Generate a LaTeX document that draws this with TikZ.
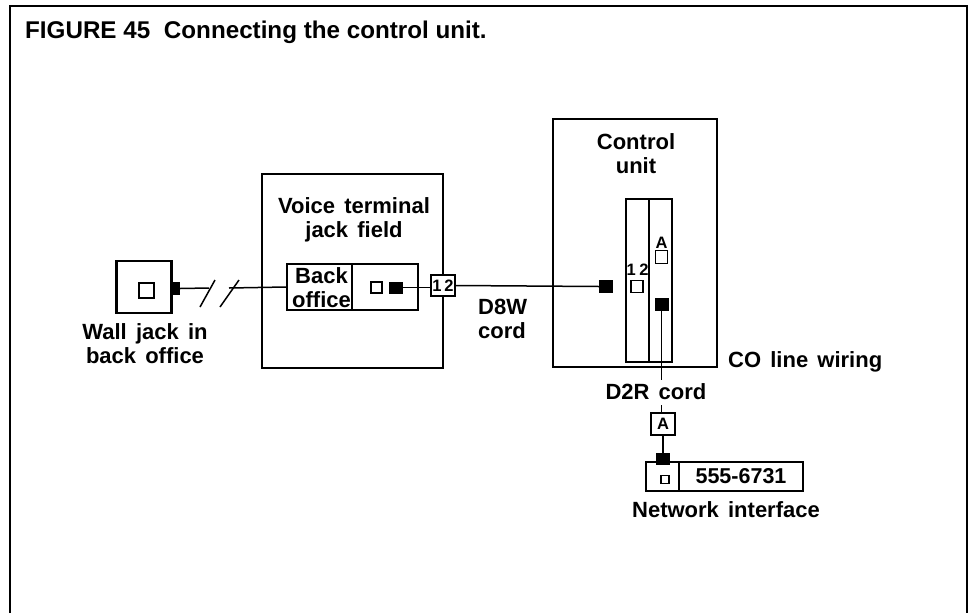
\documentclass[tikz,border=0pt]{standalone}
\usepackage{fontspec}
\setmainfont[WordSpace=1.5]{Liberation Sans}
\newfontfamily\captionfont{Liberation Sans}
\tikzset{
  label/.style={font=\fontsize{22}{24}\selectfont\bfseries,inner sep=0pt,align=center},
  smalltext/.style={font=\fontsize{16.5}{17}\selectfont\bfseries,inner sep=0pt},
  title/.style={font=\captionfont\fontsize{24.2}{25}\selectfont\bfseries,inner sep=0pt,anchor=west},
  heavybox/.style={draw,line width=2.6pt,inner sep=0pt},
  lightbox/.style={draw,line width=1.5pt,inner sep=0pt},
  plug/.style={fill=black,inner sep=0pt},
  jack/.style={draw,line width=1.3pt,fill=white,inner sep=0pt},
  cord/.style={line width=1.5pt}
}

\begin{document}
\begin{tikzpicture}[x=1pt,y=-1pt]
  \useasboundingbox (0,0) rectangle (968,613);
  % frame, open at the bottom
  \draw[line width=2pt] (9.5,613)--(9.5,6)--(967,6)--(967,613);
  \node[title] (caption) at (25,32) {FIGURE 45\hspace{7pt} Connecting the control unit.};

  % wall jack
  \node[heavybox,minimum width=55pt,minimum height=52pt] (wall) at (144,287) {};
  \node[jack,minimum size=15pt] (walljack) at (146.5,290.5) {};
  \node[plug,minimum width=8pt,minimum height=13pt] (wallplug) at (176,288.5) {};
  \node[label] (walltext) at (145,344) {Wall jack in\\back office};

  % jack field
  \node[heavybox,minimum width=181pt,minimum height=194pt] (field) at (352.5,271) {};
  \node[label] (fieldtext) at (354,220) {Voice terminal\\jack field};
  \node[lightbox,minimum width=65pt,minimum height=46pt] (backoffice) at (319.5,287) {};
  \node[label] (backtext) at (321.5,288) {Back\\office};
  \node[lightbox,minimum width=66pt,minimum height=46pt] (fieldright) at (385,287) {};
  \node[jack,minimum size=11pt] (fieldjack) at (376.5,287.5) {};
  \node[plug,minimum width=14pt,minimum height=12pt] (fieldplug) at (396,287.5) {};
  \node[lightbox,fill=white,minimum width=24pt,minimum height=21pt] (portbox) at (443,285.5) {};
  \node[smalltext] (porttext) at (443,286) {1\,2};

  % control unit
  \node[heavybox,minimum width=164pt,minimum height=248pt] (control) at (635,243) {};
  \node[label] (controltext) at (636,154) {Control\\unit};
  \node[lightbox,minimum width=23pt,minimum height=163pt] (slotleft) at (637.5,280.5) {};
  \node[lightbox,minimum width=23pt,minimum height=163pt] (slotright) at (660.5,280.5) {};
  \node[plug,minimum width=14pt,minimum height=13pt] (controlplug) at (606,286.5) {};
  \node[jack,minimum size=12pt] (slotjack) at (637,286.5) {};
  \node[smalltext] (slottext) at (637.5,270) {1\hspace{3.5pt}2};
  \node[jack,minimum size=12.5pt] (linejack) at (661.5,257) {};
  \node[smalltext] (linetext) at (661.5,243) {A};
  \node[plug,minimum width=14pt,minimum height=13pt] (lineplug) at (661.5,304.5) {};

  \node[label,anchor=west] (cowiring) at (728,361.5) {CO line wiring};
  \node[label] (d2r) at (656,392) {D2R cord};
  \node[label,align=left,anchor=west] (d8w) at (478,318.5) {D8W\\cord};

  % network interface
  \node[lightbox,minimum width=24pt,minimum height=22pt,smalltext] (abox) at (663,424) {A};
  \node[heavybox,minimum width=33pt,minimum height=29pt] (netleft) at (662.5,476.5) {};
  \node[heavybox,minimum width=124pt,minimum height=29pt,font=\fontsize{21.5}{22}\selectfont\bfseries] (netnumber) at (741,476.5) {555-6731};
  \node[jack,minimum size=8pt] (netjack) at (665,479.5) {};
  \node[plug,minimum width=14pt,minimum height=12pt] (netplug) at (663,459) {};
  \node[label] (nettext) at (726,510) {Network interface};

  % cords
  \coordinate (breakone) at (209,288);
  \coordinate (breaktwo) at (229,288);
  \draw[cord] (wallplug.east)--(breakone);
  \draw[cord] (breaktwo)--(backoffice.west);
  \draw[line width=1.5pt] (200,307)--(215,280);
  \draw[line width=1.5pt] (220,307)--(239,280);
  \draw[cord] (fieldplug.east)--(fieldplug.east-|portbox.west);
  \draw[cord] (portbox.east)--(controlplug.west);
  \coordinate (d2rtop) at (661.5,380);
  \coordinate (d2rlow) at (661.5,405);
  \draw[cord] (lineplug.south)--(d2rtop);
  \draw[cord] (d2rlow)--(d2rlow|-abox.north);
  \draw[cord] (abox.south-|netplug.north)--(netplug.north);
\end{tikzpicture}
\end{document}
